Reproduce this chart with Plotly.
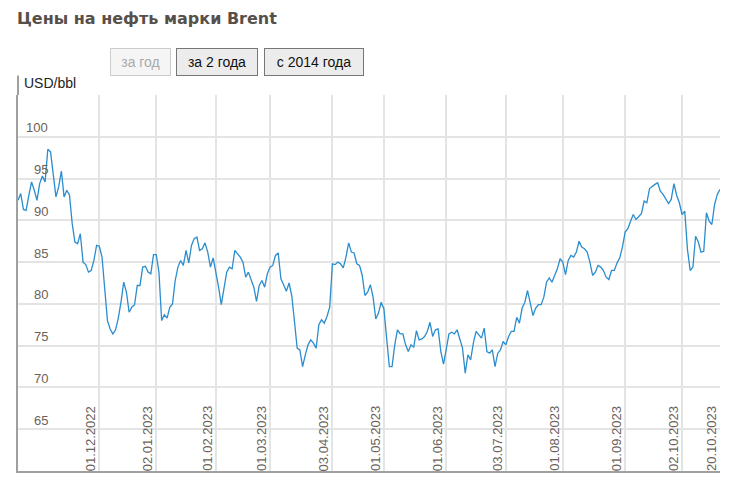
import pandas as pd
import plotly.graph_objects as go

title_text = "Цены на нефть марки Brent"
unit_label = "USD/bbl"
range_buttons = ["за год", "за 2 года", "с 2014 года"]
active_buttons = [False, True, True]

# trading days shown: one year back from the last quote, exchange holidays skipped
first_day = "2022-10-20"
last_day = "2023-10-20"
exchange_holidays = ["2022-12-26", "2023-04-07"]

brent_usd = [
    92.4, 93.2, 91.3, 91.2, 93.0, 94.6, 93.6, 92.4, 94.4, 95.3,
    94.6, 98.5, 98.2, 95.6, 92.8, 94.0, 95.9, 92.8, 93.6, 93.0,
    89.6, 87.4, 87.2, 88.4, 85.0, 84.7, 83.8, 84.0, 85.2, 87.0,
    86.9, 85.6, 81.6, 78.0, 77.0, 76.4, 76.9, 78.3, 80.2, 82.6,
    81.4, 79.0, 79.6, 79.9, 82.2, 82.2, 84.4, 84.5, 83.8, 83.6,
    85.9, 85.9, 83.8, 78.0, 78.7, 78.3, 79.6, 80.0, 82.8, 84.4,
    85.2, 84.6, 86.4, 84.9, 87.0, 87.8, 88.0, 86.4, 86.6, 87.3,
    86.2, 84.4, 85.5, 83.8, 82.0, 79.9, 82.0, 83.8, 84.4, 84.2,
    86.4, 86.0, 85.6, 85.0, 83.2, 83.8, 83.0, 82.0, 80.3, 82.2,
    82.8, 82.0, 83.6, 84.4, 84.6, 85.8, 86.1, 83.0, 82.3, 81.5,
    82.5, 81.0, 77.9, 74.7, 74.5, 72.5, 73.9, 75.1, 75.7, 75.3,
    74.7, 77.5, 78.1, 77.7, 78.5, 79.6, 84.8, 84.7, 85.0, 84.8,
    84.3, 85.6, 87.3, 86.2, 86.1, 84.8, 84.6, 83.4, 81.0, 81.4,
    82.3, 80.8, 78.2, 78.9, 80.2, 79.4, 75.9, 72.5, 72.5, 75.1,
    76.9, 76.4, 76.4, 75.1, 74.3, 75.1, 74.8, 76.8, 75.7, 75.8,
    76.1, 76.7, 77.8, 76.1, 76.9, 77.0, 74.3, 72.8, 74.6, 76.4,
    76.6, 76.4, 76.9, 75.7, 74.7, 71.7, 73.9, 73.3, 75.3, 76.7,
    76.3, 75.9, 77.1, 74.3, 74.1, 74.5, 72.5, 74.1, 74.5, 75.5,
    75.1, 76.1, 76.7, 76.7, 78.4, 77.7, 79.5, 80.2, 81.6, 79.9,
    78.6, 79.5, 79.9, 79.9, 80.8, 82.6, 83.1, 82.6, 83.4, 84.2,
    85.4, 85.0, 83.5, 85.2, 85.8, 85.6, 86.2, 87.5, 86.8, 86.6,
    86.2, 85.0, 83.4, 83.8, 84.6, 84.4, 84.0, 83.2, 82.9, 84.0,
    84.0, 84.9, 85.5, 86.8, 88.6, 89.0, 89.9, 90.7, 90.1, 90.5,
    90.8, 92.3, 92.1, 93.8, 94.1, 94.3, 94.5, 93.5, 93.1, 92.5,
    92.0, 92.5, 94.4, 93.0, 92.1, 90.7, 91.1, 86.5, 84.0, 84.4,
    88.1, 87.4, 86.2, 86.3, 90.9, 89.9, 89.5, 91.9, 93.1, 93.7,
]

tick_dates = [
    "01.12.2022", "02.01.2023", "01.02.2023", "01.03.2023", "03.04.2023", "01.05.2023",
    "01.06.2023", "03.07.2023", "01.08.2023", "01.09.2023", "02.10.2023", "20.10.2023",
]
y_grid = [60, 65, 70, 75, 80, 85, 90, 95, 100, 105]
y_labels = [65, 70, 75, 80, 85, 90, 95, 100]

trading_days = pd.bdate_range(first_day, last_day).drop(pd.to_datetime(exchange_holidays))
day_labels = list(trading_days.strftime("%d.%m.%Y"))

label_font = {"family": "Liberation Sans, Arial, sans-serif", "size": 13, "color": "#6b625a"}
axis_color = "#a0a0a0"
grid_color = "#e4e4e4"

# the page body keeps its 8px default margin, so the figure is drawn 8px smaller
fig_width = 732
fig_height = 488

fig = go.Figure()
fig.add_trace(
    go.Scatter(
        x=day_labels,
        y=brent_usd,
        mode="lines",
        line={"color": "#2b8dcd", "width": 1.3},
        hovertemplate="%{x}: %{y:.2f}<extra></extra>",
        showlegend=False,
    )
)

annotations = []
for value in y_labels:
    annotations.append(
        {
            "x": 0, "xref": "paper", "xanchor": "right", "xshift": 32,
            "y": value, "yref": "y", "yanchor": "middle", "yshift": 9,
            "text": str(value), "showarrow": False, "font": label_font,
        }
    )
for label in tick_dates:
    annotations.append(
        {
            "x": label, "xref": "x", "xanchor": "right", "xshift": 1,
            "y": 0, "yref": "paper", "yanchor": "bottom", "yshift": -2,
            "text": label, "textangle": -90, "showarrow": False, "font": label_font,
        }
    )
annotations.append(
    {
        "x": 0, "xref": "paper", "xanchor": "left", "xshift": 4,
        "y": 1, "yref": "paper", "yanchor": "middle", "yshift": 12,
        "text": unit_label, "showarrow": False,
        "font": {"family": "Liberation Sans, Arial, sans-serif", "size": 14, "color": "#222222"},
    }
)

# html range switch drawn as framed labels
button_left = [92, 158, 246]
button_width = [51, 72, 90]
for text, left, width, active in zip(range_buttons, button_left, button_width, active_buttons):
    annotations.append(
        {
            "x": 0, "xref": "paper", "xanchor": "left", "xshift": left,
            "y": 1, "yref": "paper", "yanchor": "middle", "yshift": 33,
            "text": text, "showarrow": False, "width": width, "height": 18,
            "borderpad": 4, "borderwidth": 1,
            "bordercolor": "#777777" if active else "#cccccc",
            "bgcolor": "#ececec" if active else "#f5f5f5",
            "font": {
                "family": "Liberation Sans, Arial, sans-serif",
                "size": 14,
                "color": "#111111" if active else "#aaaaaa",
            },
        }
    )

fig.update_layout(
    width=fig_width,
    height=fig_height,
    margin={"l": 10, "r": 20, "t": 87, "b": 25},
    paper_bgcolor="white",
    plot_bgcolor="white",
    title={
        "text": f"<b>{title_text}</b>",
        "x": 9 / fig_width, "xanchor": "left", "xref": "container",
        "y": 1 - 10 / fig_height, "yanchor": "middle", "yref": "container",
        "font": {"family": "DejaVu Sans, Verdana, sans-serif", "size": 16, "color": "#57504a"},
    },
    xaxis={
        "type": "category",
        "range": [0, len(day_labels) - 1],
        "tickmode": "array",
        "tickvals": tick_dates,
        "showticklabels": False,
        "ticks": "",
        "showgrid": True,
        "gridcolor": grid_color,
        "gridwidth": 2,
        "showline": True,
        "linecolor": axis_color,
        "linewidth": 2,
        "zeroline": False,
    },
    yaxis={
        "range": [60, 105],
        "tickmode": "array",
        "tickvals": y_grid,
        "showticklabels": False,
        "ticks": "",
        "showgrid": True,
        "gridcolor": grid_color,
        "gridwidth": 2,
        "showline": True,
        "linecolor": axis_color,
        "linewidth": 2,
        "zeroline": False,
    },
    annotations=annotations,
    shapes=[
        {
            "type": "line", "xref": "paper", "yref": "paper",
            "x0": 0, "x1": 0, "y0": 1, "y1": 1.052,
            "line": {"color": axis_color, "width": 2},
        }
    ],
)

fig.write_html("out.html")
